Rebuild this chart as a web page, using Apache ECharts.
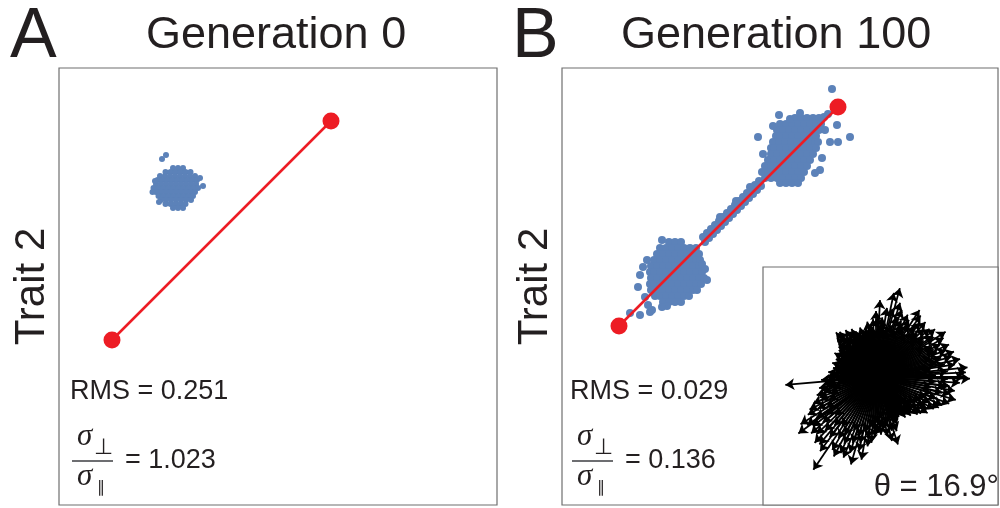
<!DOCTYPE html>
<html>
<head>
<meta charset="utf-8">
<script src="https://cdn.jsdelivr.net/npm/echarts@6/dist/echarts.min.js"></script>
<style>
  html, body { margin: 0; padding: 0; background: #fff; }
  #chart { width: 1000px; height: 508px; }
</style>
</head>
<body>
<div id="chart"></div>
<script>
// positions are offsets from the first red point (the ancestral optimum)
var optimumA = [[0, 0], [219, 219]];
var optimumB = [[0, 0], [219, 219]];

// generation 0 population
var cloudA = [
  [61, 172], [66, 172], [71, 172],
  [53.5, 168], [58.5, 168], [63.5, 168], [68.5, 168], [73.5, 168], [78.5, 168],
  [48, 164], [53, 164], [58, 164], [63, 164], [68, 164], [73, 164], [78, 164], [83, 164],
  [45.5, 160], [50.5, 160], [55.5, 160], [60.5, 160], [65.5, 160], [70.5, 160], [75.5, 160], [80.5, 160], [85, 160],
  [44, 156], [49, 156], [54, 156], [59, 156], [64, 156], [69, 156], [74, 156], [79, 156], [84, 156],
  [41.5, 152], [46.5, 152], [51.5, 152], [56.5, 152], [61.5, 152], [66.5, 152], [71.5, 152], [76.5, 152], [81.5, 152], [86, 152],
  [44, 148], [49, 148], [54, 148], [59, 148], [64, 148], [69, 148], [74, 148], [79, 148], [83, 148],
  [46.5, 144], [51.5, 144], [56.5, 144], [61.5, 144], [66.5, 144], [71.5, 144], [76.5, 144], [81, 144],
  [49, 140], [54, 140], [59, 140], [64, 140], [69, 140], [74, 140], [79, 140],
  [53.5, 136], [58.5, 136], [63.5, 136], [68.5, 136], [73.5, 136],
  [61, 132], [66, 132], [71, 132],
  [50, 181], [54, 185], [91, 154], [43, 159], [40.5, 148], [88, 162], [47, 138]
];

// generation 100 population
var cloudB = [
  // lower cluster
  [50, 84], [56, 84], [62, 84],
  [41, 78], [47, 78], [53, 78], [59, 78], [65, 78], [71, 78], [77, 78],
  [38, 72], [44, 72], [50, 72], [56, 72], [62, 72], [68, 72], [74, 72], [80, 72],
  [35, 66], [41, 66], [47, 66], [53, 66], [59, 66], [65, 66], [71, 66], [77, 66], [81, 66],
  [32, 60], [38, 60], [44, 60], [50, 60], [56, 60], [62, 60], [68, 60], [74, 60], [80, 60], [83, 62],
  [31, 54], [35, 54], [41, 54], [47, 54], [53, 54], [59, 54], [65, 54], [71, 54], [77, 54], [83, 54],
  [32, 48], [38, 48], [44, 48], [50, 48], [56, 48], [62, 48], [68, 48], [74, 48], [80, 48], [85, 48],
  [31, 42], [35, 42], [41, 42], [47, 42], [53, 42], [59, 42], [65, 42], [71, 42], [77, 42], [82, 42],
  [32, 36], [38, 36], [44, 36], [50, 36], [56, 36], [62, 36], [68, 36], [74, 36], [78, 36],
  [36, 30], [41, 30], [47, 30], [53, 30], [59, 30], [65, 30], [70, 30],
  [44, 24], [50, 24], [56, 24], [62, 24], [48, 20],
  [24, 59], [21, 51], [19, 39], [11, 13], [21, 11], [31, 14], [26, 29], [29, 21], [43, 19], [33, 16], [88, 46],
  [86, 57], [28, 66], [43, 86],
  // ridge along the line
  [84, 89], [86, 84], [88, 93], [90, 88], [92, 97], [94, 92], [96, 101], [98, 96],
  [100, 105], [102, 100], [104, 109], [106, 104], [108, 113], [110, 108], [112, 117], [114, 112],
  [116, 121], [118, 116], [120, 125], [122, 120], [124, 129], [126, 124], [128, 133], [130, 128],
  [132, 137], [134, 132], [136, 141], [138, 136], [140, 145], [142, 140],
  [87, 89], [91, 93], [95, 97], [99, 101], [103, 105], [107, 109], [111, 113], [115, 117],
  [119, 121], [123, 125], [127, 129], [131, 133], [135, 137], [139, 141],
  [101, 109], [117, 125], [131, 139],
  // upper cluster
  [176, 208], [182, 208], [188, 208], [194, 208], [200, 208], [205, 209],
  [161, 202], [167, 202], [173, 202], [179, 202], [185, 202], [191, 202], [197, 202], [202, 202],
  [158, 196], [164, 196], [170, 196], [176, 196], [182, 196], [188, 196], [194, 196], [200, 196],
  [157, 190], [161, 190], [167, 190], [173, 190], [179, 190], [185, 190], [191, 190], [197, 190],
  [154, 184], [160, 184], [166, 184], [172, 184], [178, 184], [184, 184], [190, 184], [196, 184], [199, 184],
  [152, 178], [155, 178], [161, 178], [167, 178], [173, 178], [179, 178], [185, 178], [191, 178], [197, 178],
  [152, 172], [158, 172], [164, 172], [170, 172], [176, 172], [182, 172], [188, 172], [194, 172],
  [149, 166], [155, 166], [161, 166], [167, 166], [173, 166], [179, 166], [185, 166], [191, 166],
  [146, 160], [152, 160], [158, 160], [164, 160], [170, 160], [176, 160], [182, 160], [188, 160],
  [143, 154], [149, 154], [155, 154], [161, 154], [167, 154], [173, 154], [179, 154], [185, 154],
  [146, 148], [152, 148], [158, 148], [164, 148], [170, 148], [176, 148], [182, 148],
  [161, 143], [167, 143], [173, 143], [179, 143],
  [139, 189], [213, 237], [231, 189], [218, 201], [219, 184], [211, 184], [201, 156], [196, 153],
  [154, 200], [171, 207], [181, 213], [209, 212], [206, 196], [160, 211], [203, 168], [144, 172]
];

// inset: selection gradient directions, [angle in degrees, length]
var arrows = [
  [0, 88], [3, 90], [6, 92], [9, 80], [12, 86], [15, 78], [18, 82], [21, 75], [24, 80], [27, 72],
  [30, 78], [33, 83], [36, 70], [39, 76], [42, 72], [45, 68], [48, 74], [51, 70], [54, 76], [57, 80],
  [60, 66], [63, 70], [66, 62], [69, 72], [72, 78], [75, 92], [78, 86], [81, 70], [84, 60], [87, 77],
  [90, 66], [93, 58], [96, 52], [99, 56], [102, 50], [105, 48], [108, 52], [111, 46], [114, 50], [117, 54],
  [120, 52], [123, 56], [126, 50], [129, 58], [132, 60], [135, 55], [138, 50], [141, 48], [144, 46], [147, 44],
  [150, 48], [153, 42], [156, 44], [159, 40], [162, 46], [165, 42], [168, 44], [171, 40], [174, 48], [177, 46],
  [180, 50], [183, 55], [185, 91], [188, 52], [191, 58], [194, 56], [197, 62], [200, 60], [203, 68], [206, 74],
  [209, 78], [212, 89], [215, 84], [216, 96], [218, 80], [221, 86], [224, 82], [227, 90], [230, 88], [233, 93],
  [236, 112], [239, 85], [242, 90], [245, 84], [248, 87], [251, 80], [254, 91], [257, 76], [260, 84], [263, 70],
  [266, 66], [269, 60], [272, 56], [275, 58], [278, 52], [281, 60], [284, 66], [288, 71], [291, 58], [294, 52],
  [297, 48], [300, 46], [303, 44], [306, 50], [309, 48], [312, 52], [315, 50], [318, 56], [321, 58], [325, 63],
  [328, 60], [331, 66], [334, 70], [337, 72], [340, 78], [344, 83], [347, 76], [350, 80], [353, 74], [356, 84],
  [359, 94],
  [1.5, 60], [7.5, 55], [13.5, 62], [19.5, 58], [25.5, 64], [31.5, 56], [37.5, 60], [43.5, 54], [49.5, 58], [55.5, 52],
  [61.5, 56], [67.5, 50], [73.5, 54], [79.5, 48], [85.5, 52], [91.5, 46], [97.5, 44], [103.5, 40], [109.5, 42], [115.5, 38],
  [121.5, 44], [127.5, 40], [133.5, 42], [139.5, 36], [145.5, 38], [151.5, 34], [157.5, 36], [163.5, 32], [169.5, 36], [175.5, 34],
  [181.5, 40], [187.5, 38], [193.5, 44], [199.5, 48], [205.5, 52], [211.5, 58], [217.5, 62], [223.5, 56], [229.5, 64], [235.5, 60],
  [241.5, 66], [247.5, 58], [253.5, 62], [259.5, 56], [265.5, 50], [271.5, 46], [277.5, 42], [283.5, 48], [289.5, 44], [295.5, 38],
  [301.5, 36], [307.5, 40], [313.5, 38], [319.5, 42], [325.5, 46], [331.5, 50], [337.5, 54], [343.5, 58], [349.5, 56], [355.5, 60],
  [4.5, 72], [10.5, 70], [16.5, 68], [22.5, 66], [28.5, 64], [34.5, 70], [40.5, 62], [46.5, 60], [52.5, 64], [58.5, 62],
  [64.5, 58], [70.5, 64], [76.5, 70], [82.5, 56], [88.5, 60], [94.5, 50], [100.5, 46], [106.5, 44], [112.5, 44], [118.5, 48],
  [124.5, 48], [130.5, 52], [136.5, 48], [142.5, 42], [148.5, 40], [154.5, 38], [160.5, 38], [166.5, 38], [172.5, 40], [178.5, 44],
  [184.5, 48], [190.5, 50], [196.5, 54], [202.5, 60], [208.5, 66], [214.5, 72], [220.5, 70], [226.5, 74], [232.5, 76], [238.5, 72],
  [244.5, 74], [250.5, 70], [256.5, 68], [262.5, 62], [268.5, 54], [274.5, 50], [280.5, 52], [286.5, 56], [292.5, 48], [298.5, 42],
  [304.5, 44], [310.5, 46], [316.5, 48], [322.5, 52], [328.5, 56], [334.5, 60], [340.5, 64], [346.5, 68], [352.5, 70], [358.5, 72]
];

var statsA = { rms: "0.251", ratio: "1.023" };
var statsB = { rms: "0.029", ratio: "0.136" };
var theta = "16.9";

var sans = "'Liberation Sans', Arial, Helvetica, sans-serif";
var serif = "'Liberation Serif', 'Times New Roman', serif";
var ink = "#231f20";
var blue = "#5c82b9";
var red = "#ed1c24";
var frame = "#6f6f6f";

var arrowLines = arrows.map(function (a) {
  var r = a[0] * Math.PI / 180;
  return { coords: [[0, 0], [a[1] * Math.cos(r), a[1] * Math.sin(r)]] };
});

function label(text, left, top, size, extra) {
  var t = {
    text: text, left: left, top: top, padding: 0,
    textStyle: { fontSize: size, fontFamily: sans, fontWeight: "normal", color: ink }
  };
  if (extra) {
    for (var k in extra) t.textStyle[k] = extra[k];
  }
  return t;
}

// sigma_perp over sigma_parallel
function fractionTitles(x0) {
  return [
    label("σ", x0 + 5, 421, 31, { fontFamily: serif, fontStyle: "italic" }),
    label("⊥", x0 + 22, 437, 22, { fontFamily: "'DejaVu Sans', sans-serif" }),
    label("σ", x0 + 5, 461, 31, { fontFamily: serif, fontStyle: "italic" }),
    label("∥", x0 + 25, 480, 16, { fontFamily: "'DejaVu Sans', sans-serif" })
  ];
}

var myChart = echarts.init(document.getElementById("chart"));

var axisOff = {
  axisLine: { show: false },
  axisTick: { show: false },
  axisLabel: { show: false },
  splitLine: { show: false }
};

function yName(extra) {
  var o = {
    name: "Trait 2",
    nameLocation: "middle",
    nameGap: 6,
    nameTextStyle: { fontSize: 42, fontFamily: sans, color: ink }
  };
  for (var k in extra) o[k] = extra[k];
  for (var j in axisOff) o[j] = axisOff[j];
  return o;
}

myChart.setOption({
  animation: false,
  backgroundColor: "#fff",
  title: [
    label("A", 10, 3, 70),
    label("Generation 0", 146, 13, 45),
    label("B", 512, 3, 70),
    label("Generation 100", 621, 13, 45),
    label("RMS = " + statsA.rms, 70, 378, 27),
    label("= " + statsA.ratio, 125, 447, 27),
    label("RMS = " + statsB.rms, 570, 378, 27),
    label("= " + statsB.ratio, 625, 447, 27),
    { text: "θ = " + theta + "°", right: 1, top: 472, padding: 0,
      textStyle: { fontSize: 31, fontFamily: sans, fontWeight: "normal", color: ink } }
  ].concat(fractionTitles(72), fractionTitles(572)),
  graphic: [
    { type: "line", shape: { x1: 72, y1: 461, x2: 113, y2: 461 }, style: { stroke: "#6d6e71", lineWidth: 2 } },
    { type: "line", shape: { x1: 572, y1: 461, x2: 613, y2: 461 }, style: { stroke: "#6d6e71", lineWidth: 2 } }
  ],
  grid: [
    { left: 59, top: 68, width: 438, height: 437, show: true, borderColor: frame, borderWidth: 1.2 },
    { left: 562, top: 68, width: 436, height: 437, show: true, borderColor: frame, borderWidth: 1.2 },
    { left: 763, top: 267, width: 235, height: 238, show: true, borderColor: frame, borderWidth: 1.2, backgroundColor: "#fff", z: 5 }
  ],
  xAxis: [
    Object.assign({ type: "value", gridIndex: 0, min: -53, max: 385 }, axisOff),
    Object.assign({ type: "value", gridIndex: 1, min: -57, max: 379 }, axisOff),
    Object.assign({ type: "value", gridIndex: 2, min: -113, max: 122 }, axisOff)
  ],
  yAxis: [
    yName({ type: "value", gridIndex: 0, min: -165, max: 272 }),
    yName({ type: "value", gridIndex: 1, min: -179, max: 258 }),
    Object.assign({ type: "value", gridIndex: 2, min: -128, max: 110 }, axisOff)
  ],
  series: [
    {
      type: "scatter", xAxisIndex: 0, yAxisIndex: 0, data: cloudA,
      symbolSize: 6, itemStyle: { color: blue, opacity: 1 }, silent: true, z: 2
    },
    {
      type: "line", xAxisIndex: 0, yAxisIndex: 0, data: optimumA,
      symbol: "circle", symbolSize: 17, showSymbol: true,
      lineStyle: { color: red, width: 2.5 }, itemStyle: { color: red }, silent: true, z: 3
    },
    {
      type: "scatter", xAxisIndex: 1, yAxisIndex: 1, data: cloudB,
      symbolSize: 8, itemStyle: { color: blue, opacity: 1 }, silent: true, z: 2
    },
    {
      type: "line", xAxisIndex: 1, yAxisIndex: 1, data: optimumB,
      symbol: "circle", symbolSize: 17, showSymbol: true,
      lineStyle: { color: red, width: 2.5 }, itemStyle: { color: red }, silent: true, z: 3
    },
    {
      type: "lines", coordinateSystem: "cartesian2d", xAxisIndex: 2, yAxisIndex: 2,
      data: arrowLines, symbol: ["none", "arrow"], symbolSize: 9,
      lineStyle: { color: "#000", width: 1.8, opacity: 1, curveness: 0 },
      silent: true, z: 6
    }
  ]
});
</script>
</body>
</html>
